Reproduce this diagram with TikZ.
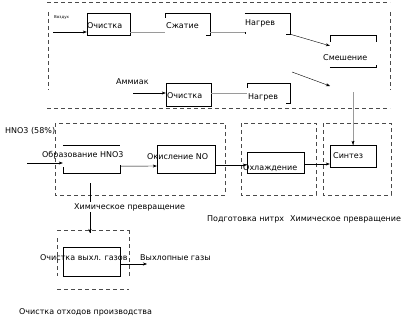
\documentclass[tikz,border=0pt]{standalone}
\usepackage{fontspec}
\setmainfont{DejaVu Sans}
\usetikzlibrary{arrows.meta,positioning}
\definecolor{lineg}{HTML}{9A9A9A}
\definecolor{zoneg}{HTML}{4A4A4A}
\tikzset{box/.style={draw=black,inner sep=0pt},frame/.style={inner sep=0pt},
  edge/.style={draw=black},lbl/.style={font=\fontsize{8}{9}\selectfont,inner sep=0pt,anchor=west},
  flow/.style={-{Stealth[length=4pt,width=3pt]},draw=black},link/.style={draw=lineg},
  zone/.style={draw=zoneg,dash pattern=on 4pt off 3pt}}
\begin{document}
\begin{tikzpicture}[x=1pt,y=-1pt]
\useasboundingbox (0,0) rectangle (414,321);
% preparation of air and ammonia
\draw[zone] (47,2)--(390,2) (47,108)--(390,108) (48,12)--(48,90) (390,12)--(390,90);
\node[box,minimum width=43,minimum height=22] (ochA) at (108.5,24) {};
\node[frame,minimum width=45,minimum height=22] (szh) at (187.5,24) {};
\node[frame,minimum width=45,minimum height=21] (nagA) at (267.5,23.5) {};
\node[frame,minimum width=46,minimum height=32] (smesh) at (353,51) {};
\node[box,minimum width=45,minimum height=23] (ochB) at (188.5,94.5) {};
\node[frame,minimum width=43,minimum height=20] (nagB) at (268.5,93) {};
\draw[edge] ([yshift=-5]szh.north west)--(szh.north west)--(szh.north east)--(szh.south east)--++(-4,0);
\draw[edge] (nagA.north west)--(nagA.north east)--(nagA.south east)--++(-4,0);
\draw[edge] ([yshift=2]nagA.south west)--(nagA.south west);
\draw[edge] ([yshift=-7]smesh.north west)--(smesh.north west)--(smesh.north east)--++(0,7);
\draw[edge] (smesh.south west)--(smesh.south east)--++(0,-2);
\draw[edge] ([yshift=-5]nagB.north west)--(nagB.north west)--(nagB.north east)--(nagB.south east)--++(-4,0);
\node[lbl,font=\fontsize{4}{5}\selectfont] (air) at (54,17) {Воздух};
\node[lbl] (tOchA) at (87,26) {Очистка};
\node[lbl] (tSzh) at (166,26) {Сжатие};
\node[lbl] (tNagA) at (245,23) {Нагрев};
\node[lbl] (tSmesh) at (323,58) {Смешение};
\node[lbl] (amm) at (116,82) {Аммиак};
\node[lbl] (tOchB) at (167,96) {Очистка};
\node[lbl] (tNagB) at (248,97) {Нагрев};
\coordinate (airin) at (53,32);
\coordinate (ammin) at (133,93);
\coordinate (mixin) at (292,72);
\coordinate (mixout) at (330,86);
\coordinate (mixdown) at (353,92);
\draw[flow] (airin)--(ochA.west |- airin);
\draw[link] (ochA.east |- airin)--(szh.west |- airin);
\draw[link] (szh.east |- airin)--(nagA.west |- airin);
\draw[flow] (nagA.south east)--([yshift=-11]smesh.north west);
\draw[flow] (mixin)--(mixout);
\draw[flow] (ammin)--(ochB.west |- ammin);
\draw[link] (ochB.east |- ammin)--(nagB.west |- ammin);
% synthesis line
\draw[zone] (55,123) rectangle (225,195);
\draw[zone] (241,123) rectangle (316,195);
\draw[zone] (323,123) rectangle (391,195);
\node[frame,minimum width=57,minimum height=28] (obr) at (91.5,159) {};
\node[box,minimum width=58,minimum height=28] (okisl) at (186,159) {};
\node[box,minimum width=57,minimum height=21] (ohl) at (275.5,162.5) {};
\node[box,minimum width=46,minimum height=22] (sint) at (353,156) {};
\draw[edge] (obr.north west)--(obr.north east);
\draw[edge] ([yshift=6]obr.south west)--(obr.south west)--(obr.south east)--++(0,-8);
\draw[link,thick] (mixdown)--(mixdown |- sint.north);
\draw[flow] ([yshift=4]mixdown |- sint.north)--(mixdown |- sint.north);
\node[lbl] (hno) at (5,131) {HNO3 (58\%)};
\node[lbl] (tObr) at (42,155) {Образование HNO3};
\node[lbl] (tOkisl) at (147,157) {Окисление NO};
\node[lbl] (tOhl) at (243,168) {Охлаждение};
\node[lbl] (tSint) at (333,156) {Синтез};
\coordinate (acidin) at (27,163);
\coordinate (chemout) at (90,183);
\coordinate (gasin) at (90,233);
\draw[flow] (acidin)--(obr.west |- acidin);
\draw[flow] ([yshift=7]obr.south east)--(okisl.west |- 0,166);
\draw[flow] (okisl.east |- 0,165)--(ohl.west |- 0,165);
\draw[flow] (ohl.east |- 0,164)--(sint.west |- 0,164);
\draw[edge] (chemout)--(gasin);
\draw[flow] ([yshift=6]gasin)--(gasin);
\node[lbl,fill=white,inner sep=1pt] (chem) at (73,207) {Химическое превращение};
\node[lbl] (prep) at (207,219) {Подготовка нитрх};
\node[lbl] (chemR) at (290,219) {Химическое превращение};
% waste gas cleaning
\draw[zone] (57,230)--(129,230) (57,289)--(129,289) (57,238)--(57,276) (129,230)--(129,276);
\node[box,minimum width=57,minimum height=29] (vyhl) at (91.5,261.5) {};
\node[lbl] (tVyhl) at (40,258) {Очистка выхл. газов};
\coordinate (exhaust) at (147,264);
\draw[flow] (vyhl.east |- exhaust)--(exhaust);
\node[lbl] (exh) at (140,258) {Выхлопные газы};
\node[lbl] (waste) at (19,312) {Очистка отходов производства};
\end{tikzpicture}
\end{document}
